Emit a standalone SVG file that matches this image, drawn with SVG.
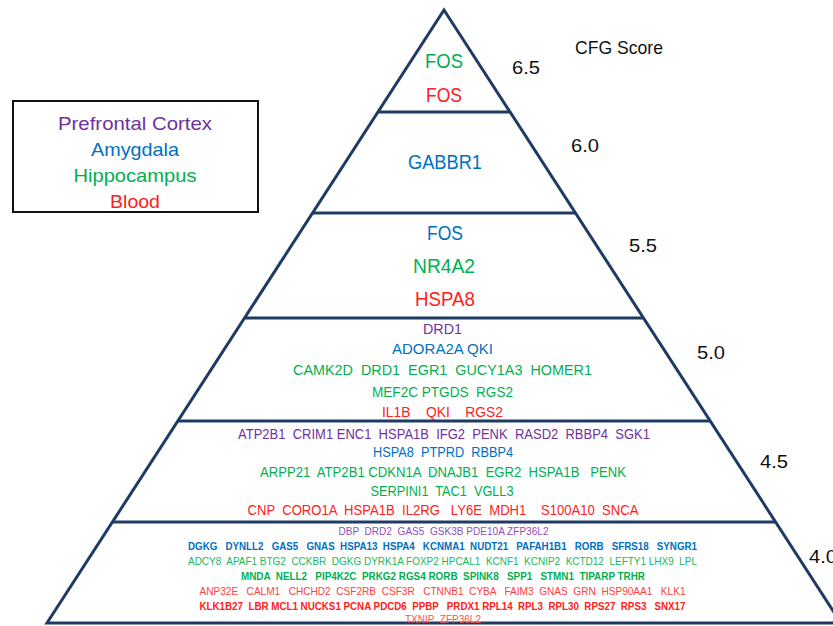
<svg xmlns="http://www.w3.org/2000/svg" width="833" height="626" viewBox="0 0 833 626">
<style>
text{font-family:"Liberation Sans",Arial,sans-serif;text-anchor:middle}
.pf{fill:#7030a0}.am{fill:#0070c0}.hc{fill:#00b050}.bl{fill:#ff2020}
.lg{font-size:19px}
.t1{font-size:20px}
.t4{font-size:15px}
.t6{font-size:11px}
.b{font-weight:bold}
.sc{font-size:19px;fill:#111;text-anchor:start}
.edge{fill:none;stroke:#1f3b63;stroke-width:3}
</style>
<rect width="833" height="626" fill="#fff"/>
<g id="legend">
<rect x="13" y="101" width="245" height="111" fill="none" stroke="#111" stroke-width="2"/>
<text class="lg pf" x="135" y="130" textLength="154" lengthAdjust="spacingAndGlyphs">Prefrontal Cortex</text>
<text class="lg am" x="135" y="156" textLength="88" lengthAdjust="spacingAndGlyphs">Amygdala</text>
<text class="lg hc" x="135" y="182" textLength="123" lengthAdjust="spacingAndGlyphs">Hippocampus</text>
<text class="lg bl" x="135" y="208" textLength="50" lengthAdjust="spacingAndGlyphs">Blood</text>
</g>
<g id="pyramid">
<polygon class="edge" points="444,10 841,623 47,623"/>
</g>
<g id="connectors">
<line class="edge" x1="378" y1="112" x2="510" y2="112"/>
<line class="edge" x1="312.7" y1="213" x2="575.3" y2="213"/>
<line class="edge" x1="244.7" y1="318" x2="643.3" y2="318"/>
<line class="edge" x1="178.1" y1="421" x2="709.9" y2="421"/>
<line class="edge" x1="112.7" y1="522" x2="775.3" y2="522"/>
</g>
<g id="scores">
<text class="sc" x="575" y="54" textLength="88" lengthAdjust="spacingAndGlyphs">CFG Score</text>
<text class="sc" x="512" y="74" textLength="28" lengthAdjust="spacingAndGlyphs">6.5</text>
<text class="sc" x="571" y="152" textLength="28" lengthAdjust="spacingAndGlyphs">6.0</text>
<text class="sc" x="629" y="252" textLength="28" lengthAdjust="spacingAndGlyphs">5.5</text>
<text class="sc" x="697" y="359" textLength="28" lengthAdjust="spacingAndGlyphs">5.0</text>
<text class="sc" x="760" y="468" textLength="28" lengthAdjust="spacingAndGlyphs">4.5</text>
<text class="sc" x="809" y="563" textLength="28" lengthAdjust="spacingAndGlyphs">4.0</text>
</g>
<g id="tier-6-5">
<text class="t1 hc" x="444" y="68" textLength="38" lengthAdjust="spacingAndGlyphs">FOS</text>
<text class="t1 bl" x="444" y="102" textLength="36" lengthAdjust="spacingAndGlyphs">FOS</text>
</g>
<g id="tier-6-0">
<text class="t1 am" x="445" y="169" textLength="74" lengthAdjust="spacingAndGlyphs">GABBR1</text>
</g>
<g id="tier-5-5">
<text class="t1 am" x="445" y="240" textLength="36" lengthAdjust="spacingAndGlyphs">FOS</text>
<text class="t1 hc" x="444" y="273" textLength="62" lengthAdjust="spacingAndGlyphs">NR4A2</text>
<text class="t1 bl" x="445" y="306" textLength="60" lengthAdjust="spacingAndGlyphs">HSPA8</text>
</g>
<g id="tier-5-0" class="t4">
<text class="pf" x="442.5" y="334" textLength="39" lengthAdjust="spacingAndGlyphs">DRD1</text>
<text class="am" x="442.5" y="354" textLength="101" lengthAdjust="spacingAndGlyphs">ADORA2A  QKI</text>
<text class="hc" x="442.5" y="375" textLength="299" lengthAdjust="spacingAndGlyphs" xml:space="preserve">CAMK2D  DRD1  EGR1  GUCY1A3  HOMER1</text>
<text class="hc" x="442.5" y="397" textLength="141" lengthAdjust="spacingAndGlyphs" xml:space="preserve">MEF2C PTGDS  RGS2</text>
<text class="bl" x="442.5" y="417" textLength="121" lengthAdjust="spacingAndGlyphs" xml:space="preserve">IL1B    QKI    RGS2</text>
</g>
<g id="tier-4-5" class="t4">
<text class="pf" x="444" y="439" textLength="412" lengthAdjust="spacingAndGlyphs" xml:space="preserve">ATP2B1  CRIM1 ENC1  HSPA1B  IFG2  PENK  RASD2  RBBP4  SGK1</text>
<text class="am" x="443" y="457" textLength="140" lengthAdjust="spacingAndGlyphs" xml:space="preserve">HSPA8  PTPRD  RBBP4</text>
<text class="hc" x="443" y="477" textLength="366" lengthAdjust="spacingAndGlyphs" xml:space="preserve">ARPP21  ATP2B1 CDKN1A  DNAJB1  EGR2  HSPA1B   PENK</text>
<text class="hc" x="442" y="496" textLength="143" lengthAdjust="spacingAndGlyphs" xml:space="preserve">SERPINI1  TAC1  VGLL3</text>
<text class="bl" x="443" y="515" textLength="391" lengthAdjust="spacingAndGlyphs" xml:space="preserve">CNP  CORO1A  HSPA1B  IL2RG   LY6E  MDH1    S100A10  SNCA</text>
</g>
<g id="tier-4-0" class="t6">
<text class="pf" x="443.5" y="535" textLength="210" lengthAdjust="spacingAndGlyphs" style="fill:#9050b8" xml:space="preserve">DBP  DRD2  GAS5  GSK3B PDE10A ZFP36L2</text>
<text class="am b" x="442.5" y="550" textLength="509" lengthAdjust="spacingAndGlyphs" xml:space="preserve">DGKG   DYNLL2   GAS5   GNAS  HSPA13  HSPA4   KCNMA1  NUDT21   PAFAH1B1   RORB   SFRS18   SYNGR1</text>
<text class="hc" x="442.5" y="565" textLength="509" lengthAdjust="spacingAndGlyphs" style="fill:#20b860" xml:space="preserve">ADCY8  APAF1 BTG2  CCKBR  DGKG DYRK1A FOXP2 HPCAL1  KCNF1  KCNIP2  KCTD12  LEFTY1 LHX9  LPL</text>
<text class="hc b" x="443" y="580" textLength="404" lengthAdjust="spacingAndGlyphs" xml:space="preserve">MNDA  NELL2   PIP4K2C  PRKG2 RGS4 RORB  SPINK8   SPP1   STMN1  TIPARP TRHR</text>
<text class="bl" x="442.5" y="595" textLength="486" lengthAdjust="spacingAndGlyphs" style="fill:#ff4040" xml:space="preserve">ANP32E   CALM1   CHCHD2  CSF2RB  CSF3R   CTNNB1  CYBA   FAIM3  GNAS  GRN  HSP90AA1   KLK1</text>
<text class="bl b" x="442.5" y="610" textLength="486" lengthAdjust="spacingAndGlyphs" xml:space="preserve">KLK1B27  LBR MCL1 NUCKS1 PCNA PDCD6  PPBP   PRDX1 RPL14  RPL3  RPL30  RPS27  RPS3   SNX17</text>
<text class="bl" x="443" y="623" textLength="76" lengthAdjust="spacingAndGlyphs" style="fill:#ff5050" xml:space="preserve">TXNIP  ZFP36L2</text>
</g>
</svg>
